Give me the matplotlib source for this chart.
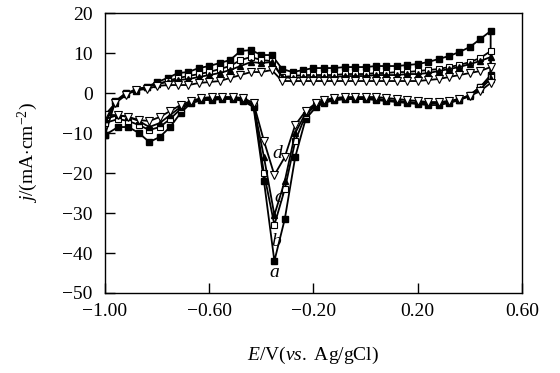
import numpy as np
import matplotlib
matplotlib.use("Agg")
import matplotlib.pyplot as plt

plt.rcParams['font.family'] = ['Liberation Serif', 'DejaVu Serif']
plt.rcParams['mathtext.fontset'] = 'custom'
plt.rcParams['mathtext.rm'] = 'Liberation Serif'
plt.rcParams['mathtext.it'] = 'Liberation Serif:italic'

# potential points of the anodic (forward) scan, V
E_up = [-1.00, -0.96, -0.92, -0.88, -0.84, -0.80, -0.76, -0.72, -0.68, -0.64,
        -0.60, -0.56, -0.52, -0.48, -0.44, -0.40, -0.36, -0.32, -0.28, -0.24,
        -0.20, -0.16, -0.12, -0.08, -0.04, 0.00, 0.04, 0.08, 0.12, 0.16,
        0.20, 0.24, 0.28, 0.32, 0.36, 0.40, 0.44, 0.48]
# potential points of the cathodic (reverse) scan, V
E_down = [0.48, 0.44, 0.40, 0.36, 0.32, 0.28, 0.24, 0.20, 0.16, 0.12,
          0.08, 0.04, 0.00, -0.04, -0.08, -0.12, -0.16, -0.19, -0.23, -0.27,
          -0.31, -0.35, -0.39, -0.43, -0.47, -0.51, -0.55, -0.59, -0.63, -0.67,
          -0.71, -0.75, -0.79, -0.83, -0.87, -0.91, -0.95, -1.00]

# current density, mA/cm2
j_up_a = [-10.5, -2.0, 0.0, 0.5, 1.5, 2.75, 3.75, 5.0, 5.25, 6.25,
          6.75, 7.5, 8.25, 10.5, 10.75, 9.5, 9.5, 6.0, 5.25, 5.75,
          6.25, 6.25, 6.25, 6.5, 6.5, 6.5, 6.75, 6.75, 6.75, 7.0,
          7.25, 7.75, 8.5, 9.25, 10.25, 11.5, 13.5, 15.5]
j_down_a = [4.5, 1.5, -0.5, -1.75, -2.5, -3.0, -3.0, -2.75, -2.5, -2.25,
            -2.0, -1.75, -1.5, -1.5, -1.5, -1.75, -2.5, -3.5, -6.5, -16.0,
            -31.5, -42.0, -22.0, -3.5, -2.0, -1.5, -1.5, -1.75, -1.75, -2.5,
            -5.0, -8.5, -11.0, -12.25, -10.0, -8.5, -8.5, -10.5]

j_up_b = [-7.5, -2.5, 0.0, 0.75, 1.5, 2.25, 3.0, 3.75, 4.25, 4.75,
          5.25, 6.0, 6.75, 8.25, 9.0, 8.25, 8.0, 4.0, 4.25, 4.5,
          4.5, 4.5, 4.5, 4.75, 4.75, 4.75, 5.0, 5.0, 5.25, 5.25,
          5.5, 5.75, 6.0, 6.5, 7.0, 7.75, 8.75, 10.5]
j_down_b = [4.0, 1.5, -0.5, -1.5, -2.25, -2.5, -2.5, -2.5, -2.25, -2.0,
            -1.75, -1.5, -1.5, -1.5, -1.5, -1.75, -2.25, -3.0, -5.5, -12.0,
            -24.0, -33.0, -20.0, -3.0, -1.75, -1.25, -1.25, -1.5, -1.75, -2.5,
            -4.0, -6.5, -8.5, -9.25, -8.0, -7.0, -6.5, -7.5]

j_up_c = [-6.5, -2.5, -0.25, 1.0, 1.5, 2.25, 2.75, 3.25, 3.5, 4.0,
          4.5, 5.0, 5.75, 6.75, 7.75, 7.5, 7.75, 4.0, 3.75, 4.0,
          4.0, 4.0, 4.0, 4.25, 4.25, 4.25, 4.5, 4.5, 4.5, 4.75,
          4.75, 5.0, 5.5, 6.0, 6.5, 7.25, 8.0, 9.0]
j_down_c = [3.5, 1.0, -0.75, -1.75, -2.25, -2.5, -2.5, -2.5, -2.25, -2.0,
            -1.75, -1.5, -1.25, -1.25, -1.25, -1.5, -2.0, -2.75, -5.0, -10.0,
            -22.0, -30.5, -16.0, -3.0, -1.5, -1.25, -1.0, -1.25, -1.5, -2.25,
            -3.5, -5.5, -7.5, -8.5, -7.0, -6.0, -5.5, -6.5]

j_up_d = [-5.5, -2.5, -0.5, 0.75, 1.0, 1.75, 2.0, 2.0, 2.0, 2.5,
          2.75, 3.0, 3.75, 4.5, 5.25, 5.25, 5.75, 3.0, 3.0, 3.0,
          3.0, 3.0, 3.0, 3.0, 3.0, 3.0, 3.0, 3.0, 3.0, 3.0,
          3.0, 3.25, 3.5, 4.0, 4.5, 5.0, 5.5, 6.5]
j_down_d = [2.5, 0.5, -0.75, -1.5, -2.0, -2.25, -2.25, -2.0, -1.75, -1.5,
            -1.25, -1.0, -1.0, -1.0, -1.0, -1.25, -1.75, -2.5, -4.5, -8.0,
            -16.0, -20.5, -12.0, -2.5, -1.25, -1.0, -1.0, -1.0, -1.25, -2.0,
            -3.0, -4.5, -6.0, -7.0, -6.75, -6.0, -5.5, -5.5]

curve_labels = ['a', 'b', 'c', 'd']
label_pos = [(-0.352, -44.8), (-0.345, -37.2), (-0.335, -26.2), (-0.34, -15.0)]

fig = plt.figure(figsize=(5.6, 3.73), dpi=100)
ax = fig.add_axes([0.1875, 0.2145, 0.7445, 0.7505])

E_loop = E_up + E_down
ax.plot(E_loop, j_up_a + j_down_a, color='black', lw=1.3, marker='s', ms=4.5,
        mfc='black', mec='black')
ax.plot(E_loop, j_up_b + j_down_b, color='black', lw=1.3, marker='s', ms=4.5,
        mfc='white', mec='black', mew=0.8)
ax.plot(E_loop, j_up_c + j_down_c, color='black', lw=1.3, marker='^', ms=5,
        mfc='black', mec='black')
ax.plot(E_loop, j_up_d + j_down_d, color='black', lw=1.3, marker='v', ms=5.5,
        mfc='white', mec='black', mew=0.8)

for lab, (x, y) in zip(curve_labels, label_pos):
    ax.text(x, y, lab, fontsize=14, fontstyle='italic', ha='center', va='center')

ax.set_xlim(-1.0, 0.6)
ax.set_ylim(-50, 20)
ax.set_xticks([-1.0, -0.6, -0.2, 0.2, 0.6])
ax.set_xticklabels(['\u22121.00', '\u22120.60', '\u22120.20', '0.20', '0.60'])
ax.set_yticks([20, 10, 0, -10, -20, -30, -40, -50])
ax.tick_params(direction='in', length=7, width=1, labelsize=14)
ax.tick_params(axis='x', pad=7)
ax.tick_params(axis='y', pad=9)
for s in ax.spines.values():
    s.set_linewidth(1.0)

ax.set_xlabel(r'$E$/V($vs.$ Ag/gCl)', fontsize=14, labelpad=18)
ax.set_ylabel(r'$j$/(mA$\cdot$cm$^{-2}$)', fontsize=14, labelpad=16)

fig.savefig('out.png', dpi=100)
